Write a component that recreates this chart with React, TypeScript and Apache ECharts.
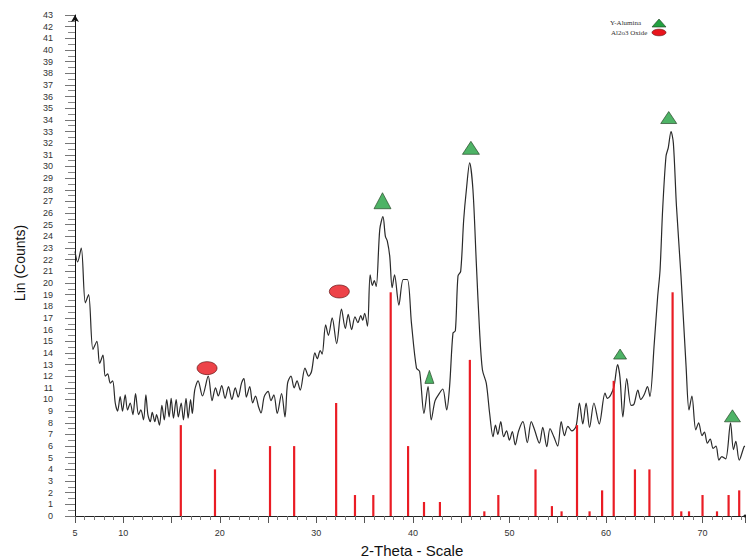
import React, { useEffect, useRef } from "react";
import * as echarts from "echarts";

// 2-theta positions and intensities of the measured XRD pattern
const curveTheta = [
  5.0, 5.27, 5.65, 6.07, 6.41, 6.86, 7.27, 7.55, 7.9, 8.13, 8.38, 8.66, 8.9, 9.17, 9.41, 9.68, 9.92,
  10.2, 10.44, 10.72, 11.0, 11.27, 11.58, 11.82, 12.1, 12.34, 12.55, 12.8, 13.0, 13.27, 13.45, 13.75,
  14.0, 14.25, 14.5, 14.75, 14.96, 15.2, 15.48, 15.7, 16.0, 16.23, 16.5, 16.72, 16.97, 17.15, 17.4,
  17.75, 18.2, 18.8, 19.2, 19.55, 19.85, 20.2, 20.55, 20.9, 21.25, 21.6, 21.9, 22.25, 22.5, 22.75,
  23.1, 23.4, 23.7, 24.0, 24.27, 24.6, 25.0, 25.3, 25.6, 25.95, 26.4, 26.75, 27.02, 27.37, 27.7, 28.0,
  28.33, 28.82, 29.2, 29.5, 29.85, 30.1, 30.4, 30.6, 30.96, 31.25, 31.64, 32.1, 32.6, 33.0, 33.3,
  33.65, 34.0, 34.3, 34.6, 34.8, 35.0, 35.3, 35.57, 35.8, 36.0, 36.2, 36.57, 36.9, 37.15, 37.35, 37.6,
  37.85, 38.1, 38.55, 39.0, 39.43, 39.85, 40.37, 40.7, 41.15, 41.57, 41.9, 42.3, 42.8, 43.1, 43.5,
  43.8, 44.15, 44.4, 44.67, 44.95, 45.26, 45.54, 45.88, 46.22, 46.57, 46.9, 47.2, 47.6, 47.95, 48.3,
  48.55, 48.8, 49.1, 49.4, 49.7, 50.0, 50.3, 50.6, 50.95, 51.4, 51.85, 52.26, 52.6, 53.1, 53.45, 53.87,
  54.2, 54.6, 55.0, 55.36, 55.7, 56.05, 56.46, 56.9, 57.25, 57.6, 57.94, 58.3, 58.75, 59.3, 59.9,
  60.15, 60.5, 60.85, 61.2, 61.45, 61.75, 62.15, 62.6, 62.9, 63.3, 63.6, 63.95, 64.3, 64.55, 65.0,
  65.35, 65.6, 65.87, 66.22, 66.45, 66.74, 66.98, 67.3, 67.77, 68.3, 68.6, 68.9, 69.3, 69.6, 69.95,
  70.2, 70.5, 70.8, 71.1, 71.4, 71.7, 72.0, 72.4, 72.9, 73.2, 73.45, 73.8, 74.3, 74.4,
];
const curveCounts = [
  22.7, 21.8, 23.0, 18.3, 19.0, 14.3, 15.0, 13.1, 13.8, 12.0, 12.2, 11.4, 11.6, 9.7, 9.0, 10.25, 9.0,
  10.4, 9.1, 9.7, 8.7, 10.5, 8.7, 9.1, 8.25, 10.4, 8.7, 8.1, 8.9, 8.1, 8.7, 7.8,
  9.5, 8.25, 10.0, 8.5, 10.1, 8.4, 10.0, 8.5, 9.7, 8.25, 10.1, 8.4, 10.0, 8.8, 10.8,
  11.6, 10.3, 12.0, 9.9, 11.0, 10.3, 11.2, 10.1, 11.1, 10.0, 11.0, 10.2, 11.4, 11.8, 10.2,
  11.1, 9.7, 10.3, 9.4, 8.85, 10.25, 10.7, 9.9, 10.4, 8.8, 10.5, 8.5, 11.4, 12.0, 11.0, 11.6,
  10.8, 12.7, 12.0, 12.4, 14.0, 13.5, 14.2, 13.9, 16.4, 15.5, 17.0, 14.8, 17.75, 16.1, 17.3,
  16.0, 17.1, 16.6, 17.2, 16.8, 17.4, 16.3, 20.7, 19.8, 20.2, 19.7, 24.6, 25.7, 24.0, 23.6, 22.3,
  19.6, 20.7, 18.1, 20.3, 20.3, 16.55, 12.7, 12.4, 8.8, 11.1, 8.25, 9.9, 10.6, 10.9, 9.1,
  11.1, 15.7, 15.9, 20.6, 21.0, 25.4, 28.0, 30.3, 28.0, 21.7, 16.0, 12.55, 11.4, 8.8, 6.8,
  7.8, 7.0, 8.1, 6.8, 7.3, 6.5, 7.25, 6.1, 7.3, 8.1, 6.3, 8.1, 7.4, 6.25, 7.6, 5.95,
  7.5, 6.8, 6.0, 8.1, 6.9, 7.7, 7.3, 7.7, 9.7, 7.9, 9.7, 7.6, 9.7, 7.9, 10.55,
  10.1, 10.4, 11.2, 13.0, 11.9, 8.5, 11.8, 9.5, 9.6, 10.8, 10.0, 10.4, 11.1, 10.25, 14.8,
  18.8, 21.1, 26.3, 30.9, 31.6, 33.0, 32.0, 26.6, 20.6, 12.8, 9.1, 10.3, 7.4, 8.0, 6.9,
  7.2, 6.25, 6.6, 5.8, 6.0, 4.8, 5.1, 4.9, 8.0, 5.7, 6.4, 4.8, 5.95, 6.0,
];

// reference pattern lines (red sticks)
const stickTheta = [
  15.96, 19.5, 25.2, 27.7, 32.05, 34.0, 35.9, 37.7, 39.5, 41.15, 42.8, 45.9, 47.4, 48.85, 52.7,
  54.4, 55.4, 57.0, 58.3, 59.6, 60.8, 63.0, 64.5, 66.9, 67.8, 68.6, 70.0, 71.5, 72.7, 73.8,
];
const stickHeight = [
  7.8, 4.0, 6.0, 6.0, 9.7, 1.8, 1.8, 19.2, 6.0, 1.2, 1.2, 13.4, 0.4, 1.8, 4.0,
  0.85, 0.4, 7.8, 0.4, 2.2, 11.6, 4.0, 4.0, 19.2, 0.4, 0.4, 1.8, 0.4, 1.8, 2.2,
];

// phase markers
const aluminaTheta = [36.85, 41.71, 46.01, 61.46, 66.5, 73.1];
const aluminaLevel = [27.06, 11.94, 31.6, 13.9, 34.2, 8.6];
const oxideTheta = [18.68, 32.38];
const oxideLevel = [12.69, 19.27];

const legendLabels = ["Y-Alumina", "Al2o3 Oxide"];
const xTitle = "2-Theta - Scale";
const yTitle = "Lin (Counts)";

const aluminaSizes = [[17, 16], [9, 13], [17, 13], [13, 10], [16, 12], [16, 12]];

export default function App() {
  const ref = useRef<HTMLDivElement>(null);
  useEffect(() => {
    if (!ref.current) return;
    const chart = echarts.init(ref.current, undefined, { renderer: "svg" });
    const curve = curveTheta.map((t, i) => [t, curveCounts[i]]);
    const sticks = stickTheta.map((t, i) => [t, stickHeight[i]]);
    const alumina = aluminaTheta.map((t, i) => [t, aluminaLevel[i]]);
    const oxide = oxideTheta.map((t, i) => [t, oxideLevel[i]]);
    const font = "'Liberation Sans', Arial, sans-serif";
    chart.setOption({
      animation: false,
      backgroundColor: "#ffffff",
      grid: { left: 75, right: 1, top: 15, bottom: 41, containLabel: false },
      xAxis: {
        type: "value",
        min: 5,
        max: 74.4,
        interval: 5,
        splitLine: { show: false },
        axisLine: {
          lineStyle: { color: "#222", width: 1 },
          symbol: ["none", "circle"],
          symbolSize: [3, 3],
        },
        axisTick: { length: 7, lineStyle: { color: "#555" } },
        minorTick: { show: true, splitNumber: 5, length: 4, lineStyle: { color: "#777" } },
        axisLabel: {
          showMaxLabel: false,
          margin: 12,
          fontSize: 9,
          fontFamily: font,
          color: "#333",
          formatter: (v: number) => (v === 5 || v % 10 === 0 ? String(v) : ""),
        },
      },
      yAxis: {
        type: "value",
        min: 0,
        max: 43,
        interval: 1,
        splitLine: { show: false },
        axisLine: {
          show: true,
          lineStyle: { color: "#111", width: 1 },
          symbol: ["none", "arrow"],
          symbolSize: [6, 7],
        },
        axisTick: { show: true, length: 10, lineStyle: { color: "#777" } },
        minorTick: { show: true, splitNumber: 2, length: 7, lineStyle: { color: "#888" } },
        axisLabel: { margin: 22, fontSize: 9, fontFamily: font, color: "#333" },
      },
      series: [
        {
          type: "line",
          data: curve,
          smooth: 0.3,
          showSymbol: false,
          lineStyle: { color: "#2a2a2a", width: 1.2 },
          z: 2,
        },
        {
          type: "custom",
          data: sticks,
          z: 3,
          renderItem: (_p: any, api: any) => {
            const x = api.value(0);
            const h = api.value(1);
            const a = api.coord([x, 0]);
            const b = api.coord([x, h]);
            return {
              type: "line",
              shape: { x1: a[0], y1: a[1], x2: b[0], y2: b[1] },
              style: { stroke: "#ea1c24", lineWidth: 2.2 },
            };
          },
        },
        {
          type: "scatter",
          data: alumina,
          symbol: "triangle",
          symbolSize: (_v: any, p: any) => aluminaSizes[p.dataIndex],
          itemStyle: { color: "#22a040", borderColor: "#1f3d1f", borderWidth: 0.8 },
          z: 4,
        },
        {
          type: "scatter",
          data: oxide,
          symbol: "circle",
          symbolSize: [20, 13],
          itemStyle: { color: "#e8141c", borderColor: "#5a0c0c", borderWidth: 0.8 },
          z: 4,
        },
      ],
      graphic: [
        {
          type: "text",
          left: 610,
          top: 19,
          style: { text: legendLabels[0], fontSize: 7, fontFamily: "'Liberation Serif', serif", fill: "#333" },
        },
        {
          type: "polygon",
          shape: { points: [[652, 27], [666, 27], [659, 19]] },
          style: { fill: "#22a040", stroke: "#1f3d1f", lineWidth: 0.6 },
        },
        {
          type: "text",
          left: 611,
          top: 29,
          style: { text: legendLabels[1], fontSize: 7, fontFamily: "'Liberation Serif', serif", fill: "#333" },
        },
        {
          type: "ellipse",
          shape: { cx: 659, cy: 32.5, rx: 7, ry: 3.3 },
          style: { fill: "#e8141c", stroke: "#5a0c0c", lineWidth: 0.6 },
        },
        {
          type: "text",
          x: 412,
          y: 550,
          style: {
            text: xTitle,
            fontSize: 15,
            fontFamily: font,
            fill: "#111",
            align: "center",
            verticalAlign: "middle",
          },
        },
        {
          type: "text",
          x: 20,
          y: 263,
          rotation: Math.PI / 2,
          style: {
            text: yTitle,
            fontSize: 14,
            fontFamily: font,
            fill: "#111",
            align: "center",
            verticalAlign: "middle",
          },
        },
      ],
    });
    return () => chart.dispose();
  }, []);
  return (
    <div
      ref={ref}
      style={{ position: "fixed", left: 0, top: 0, width: 746, height: 557, background: "#fff" }}
    />
  );
}
